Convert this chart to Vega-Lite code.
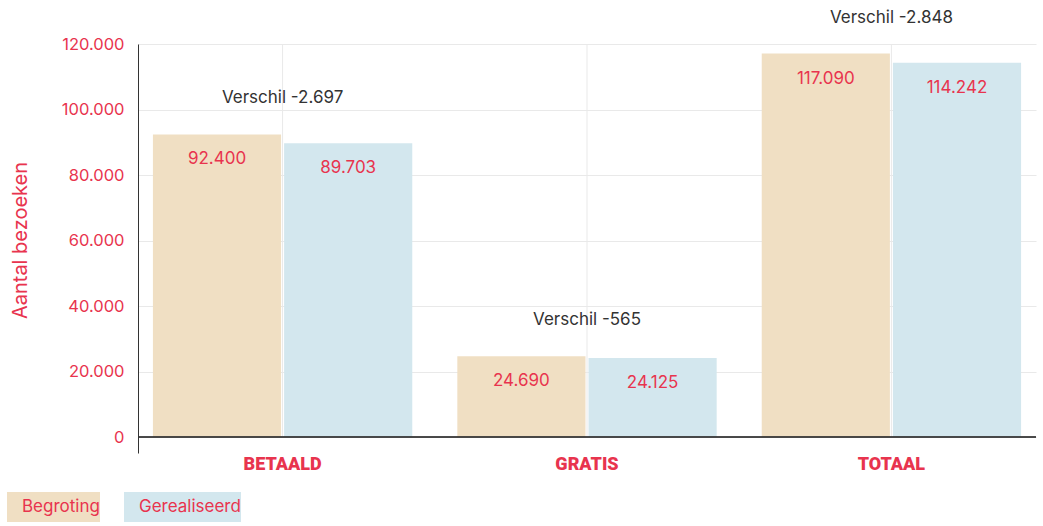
{
  "$schema": "https://vega.github.io/schema/vega-lite/v6.json",
  "padding": {"left": 7, "top": 8, "right": 4, "bottom": 5},
  "width": 898,
  "height": 409,
  "config": {
    "locale": {"number": {"decimal": ",", "thousands": ".", "grouping": [3], "currency": ["€", ""]}},
    "view": {"stroke": null},
    "font": "Inter",
    "axisX": {"labelAngle": 0, "labelAlign": "center"}
  },
  "datasets": {
    "bezoeken": [
      {"categorie": "BETAALD", "type": "Begroting", "aantal": 92400},
      {"categorie": "BETAALD", "type": "Gerealiseerd", "aantal": 89703},
      {"categorie": "GRATIS", "type": "Begroting", "aantal": 24690},
      {"categorie": "GRATIS", "type": "Gerealiseerd", "aantal": 24125},
      {"categorie": "TOTAAL", "type": "Begroting", "aantal": 117090},
      {"categorie": "TOTAAL", "type": "Gerealiseerd", "aantal": 114242}
    ],
    "verschil": [
      {"categorie": "BETAALD", "hoogste": 92400, "label": "Verschil -2.697"},
      {"categorie": "GRATIS", "hoogste": 24690, "label": "Verschil -565"},
      {"categorie": "TOTAAL", "hoogste": 117090, "label": "Verschil -2.848"}
    ]
  },
  "layer": [
    {
      "data": {"name": "verschil"},
      "mark": {"type": "rule", "color": "#e9e9e9", "strokeWidth": 1},
      "encoding": {
        "x": {"field": "categorie", "type": "nominal", "sort": ["BETAALD", "GRATIS", "TOTAAL"], "title": null,
              "scale": {"paddingInner": 0.148, "paddingOuter": 0.049}},
        "y": {"datum": 0, "type": "quantitative", "title": "Aantal bezoeken",
              "scale": {"domain": [-4885, 120000], "nice": false}},
        "y2": {"datum": 120000}
      }
    },
    {
      "data": {"name": "bezoeken"},
      "mark": {"type": "bar"},
      "encoding": {
        "x": {"field": "categorie", "type": "nominal", "sort": ["BETAALD", "GRATIS", "TOTAAL"], "title": null,
              "axis": {"ticks": false, "domain": false, "grid": false, "labelAngle": 0, "labelAlign": "center",
                       "labelFont": "Roboto", "labelFontWeight": 900,
                       "labelFontSize": 18, "labelColor": "#e8344e", "labelPadding": 2}},
        "xOffset": {"field": "type", "type": "nominal", "sort": ["Begroting", "Gerealiseerd"], "scale": {"paddingInner": 0.023}},
        "y": {"field": "aantal", "type": "quantitative", "stack": null, "title": "Aantal bezoeken",
              "axis": {"values": [0, 20000, 40000, 60000, 80000, 100000, 120000], "format": ",d",
                       "grid": true, "gridColor": "#e9e9e9", "ticks": false, "domainColor": "#333333",
                       "labelColor": "#e8344e", "labelFont": "Inter", "labelFontSize": 16.5, "labelPadding": 14,
                       "titleColor": "#e8344e", "titleFont": "Inter", "titleFontSize": 20, "titleFontWeight": "normal",
                       "titlePadding": 31, "titleY": 196}},
        "color": {"field": "type", "type": "nominal",
                  "scale": {"domain": ["Begroting", "Gerealiseerd"], "range": ["#f0dfc3", "#d3e7ee"]},
                  "legend": {"orient": "none", "legendX": -131, "legendY": 448, "direction": "horizontal", "title": null,
                             "symbolType": "M-1,-0.2143H1V0.2143H-1Z", "symbolSize": 19600, "symbolStrokeWidth": 0,
                             "symbolOpacity": 1, "clipHeight": 30, "labelOffset": -125, "labelAlign": "left",
                             "labelColor": "#e8344e", "labelFontSize": 17, "labelFont": "Inter", "columnPadding": 24,
                             "labelLimit": 0, "padding": 0}}
      }
    },
    {
      "data": {"name": "verschil"},
      "mark": {"type": "rule", "color": "#333333", "strokeWidth": 1.2},
      "encoding": {
        "y": {"datum": 0, "type": "quantitative", "title": "Aantal bezoeken"}
      }
    },
    {
      "data": {"name": "bezoeken"},
      "mark": {"type": "text", "color": "#e8344e", "fontSize": 17, "baseline": "middle", "dy": 25},
      "encoding": {
        "x": {"field": "categorie", "type": "nominal", "sort": ["BETAALD", "GRATIS", "TOTAAL"], "title": null},
        "xOffset": {"field": "type", "type": "nominal", "sort": ["Begroting", "Gerealiseerd"]},
        "y": {"field": "aantal", "type": "quantitative", "title": "Aantal bezoeken"},
        "text": {"field": "aantal", "type": "quantitative", "format": ","}
      }
    },
    {
      "data": {"name": "verschil"},
      "mark": {"type": "text", "color": "#333333", "fontSize": 17, "baseline": "middle", "dy": -36},
      "encoding": {
        "x": {"field": "categorie", "type": "nominal", "sort": ["BETAALD", "GRATIS", "TOTAAL"], "title": null},
        "y": {"field": "hoogste", "type": "quantitative", "title": "Aantal bezoeken"},
        "text": {"field": "label", "type": "nominal"}
      }
    }
  ]
}
